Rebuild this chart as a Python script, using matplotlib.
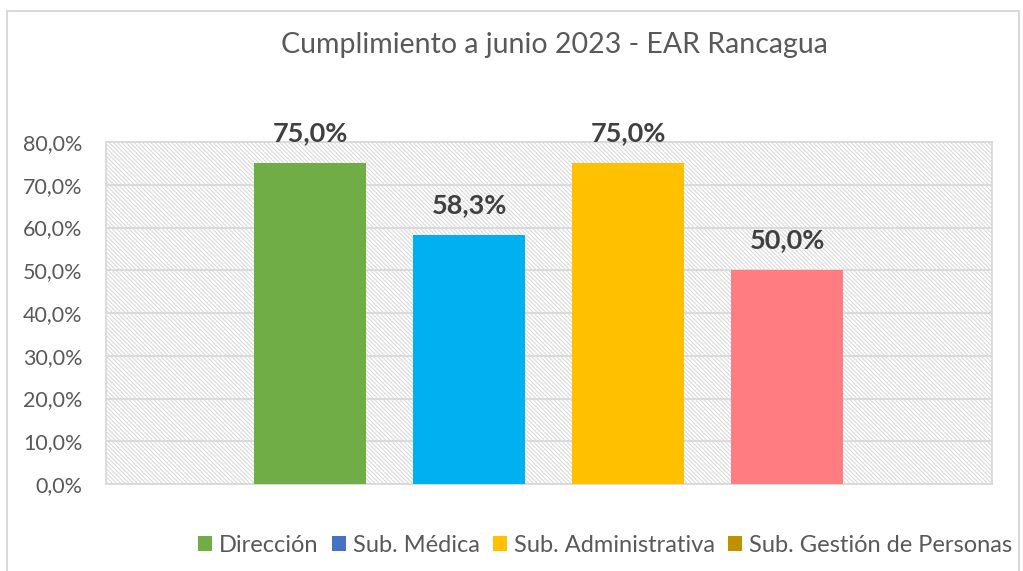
import matplotlib.pyplot as plt
from matplotlib.patches import Patch, Rectangle

# data
series = ["Dirección", "Sub. Médica", "Sub. Administrativa", "Sub. Gestión de Personas"]
values = [75.0, 58.3, 75.0, 50.0]
bar_colors = ["#70AD47", "#00B0F0", "#FFC000", "#FF7C80"]
legend_colors = ["#70AD47", "#4472C4", "#FFC000", "#BF9000"]
yticks = [0, 10, 20, 30, 40, 50, 60, 70, 80]
title = "Cumplimiento a junio 2023 - EAR Rancagua"

plt.rcParams['font.family'] = ['Lato', 'DejaVu Sans']
plt.rcParams['hatch.color'] = '#DADADA'
plt.rcParams['hatch.linewidth'] = 0.8

fig = plt.figure(figsize=(10.23, 5.71), dpi=100)
ax = fig.add_axes([106/1023, 1-484/571, (992-106)/1023, (484-142)/571])

# hatched plot-area background
ax.add_patch(Rectangle((0, 0), 1, 1, transform=ax.transAxes, facecolor='white',
                       edgecolor='#DADADA', hatch='\\\\\\\\\\\\\\\\', linewidth=0, zorder=0))

x = list(range(len(values)))
ax.bar(x, values, width=0.704, color=bar_colors, zorder=3)

for xi, v in zip(x, values):
    ax.annotate(f"{v:.1f}%".replace('.', ','), (xi, v), xytext=(0, 13), textcoords='offset points',
                ha='center', va='bottom', fontsize=19.5, fontweight='bold', color='#404040', zorder=4)

ax.set_xlim(-1.283, 4.289)
ax.set_ylim(0, 80)
ax.set_yticks(yticks)
ax.set_yticklabels([f"{t:.1f}%".replace('.', ',') for t in yticks])
ax.set_xticks([])
ax.tick_params(axis='y', length=0, pad=17, labelsize=15.5, labelcolor='#595959')
ax.grid(axis='y', color='#D9D9D9', linewidth=1.3, zorder=1)
ax.set_axisbelow(True)
for s in ax.spines.values():
    s.set_color('#D9D9D9')
    s.set_linewidth(1.3)

fig.text(554/1023, 1-45/571, title, ha='center', va='center', fontsize=20.5, color='#595959')

handles = [Patch(facecolor=c, edgecolor='none') for c in legend_colors]
fig.legend(handles, series, loc='center', bbox_to_anchor=(605/1023, 1-545/571), ncol=4,
           frameon=False, fontsize=17, labelcolor='#595959', handlelength=0.6, handleheight=0.6,
           handletextpad=0.3, columnspacing=0.55)

# outer chart border
fig.patches.append(Rectangle((7/1023, -0.1), (1019-7)/1023, 1.1-11/571, transform=fig.transFigure,
                             fill=False, edgecolor='#D9D9D9', linewidth=1.5))

fig.savefig('out.png', dpi=100)
